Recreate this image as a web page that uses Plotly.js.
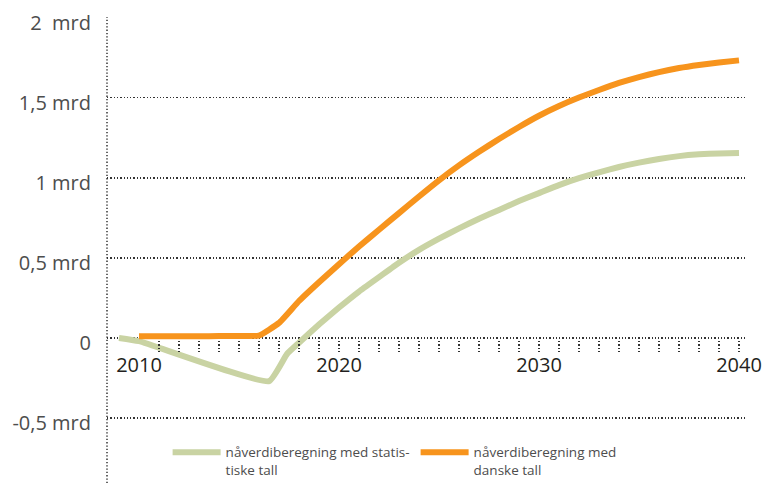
<!DOCTYPE html>
<html>
<head>
<meta charset="utf-8">
<script src="https://cdn.plot.ly/plotly-3.0.1.min.js"></script>
<style>html,body{margin:0;padding:0;background:#fff}#chart{width:770px;height:483px}</style>
</head>
<body>
<div id="chart"></div>
<script>
// Series: nåverdiberegning med statistiske tall (green)
const greenYears = [2009, 2010, 2016.5, 2017.4, 2018, 2019, 2020, 2021, 2022, 2023, 2024, 2025, 2026, 2027, 2028, 2029, 2030, 2031, 2032, 2033, 2034, 2035, 2036, 2037, 2038, 2039, 2040];
const greenValues = [0.0, -0.02, -0.27, -0.10, -0.03, 0.084, 0.19, 0.29, 0.38, 0.47, 0.55, 0.62, 0.685, 0.745, 0.80, 0.855, 0.905, 0.955, 0.998, 1.035, 1.068, 1.095, 1.118, 1.136, 1.147, 1.153, 1.156];

// Series: nåverdiberegning med danske tall (orange)
const orangeYears = [2010, 2011, 2012, 2013, 2014, 2015, 2016, 2017, 2018, 2019, 2020, 2021, 2022, 2023, 2024, 2025, 2026, 2027, 2028, 2029, 2030, 2031, 2032, 2033, 2034, 2035, 2036, 2037, 2038, 2039, 2040];
const orangeValues = [0.01, 0.01, 0.01, 0.01, 0.012, 0.013, 0.015, 0.094, 0.231, 0.348, 0.461, 0.571, 0.676, 0.78, 0.884, 0.985, 1.078, 1.163, 1.243, 1.318, 1.388, 1.449, 1.502, 1.549, 1.593, 1.630, 1.661, 1.686, 1.705, 1.721, 1.734];

const seriesNames = ['nåverdiberegning med statis-<br>tiske tall', 'nåverdiberegning med<br>danske tall'];

// Axis ticks
const yTickVals = [-0.5, 0, 0.5, 1, 1.5, 2];
const yTickText = ['-0,5 mrd', '0', '0,5 mrd', '1 mrd', '1,5 mrd', '2\u00a0 mrd'];
const xLabelVals = [2010, 2020, 2030, 2040];
const xLabelText = ['2010', '2020', '2030', '2040'];
const yearTicks = [2011, 2012, 2013, 2014, 2015, 2016, 2017, 2018, 2019, 2020, 2021, 2022, 2023, 2024, 2025, 2026, 2027, 2028, 2029, 2030, 2031, 2032, 2033, 2034, 2035, 2036, 2037, 2038, 2039, 2040];

const xRange = [2008.4, 2040.3];
const yRange = [-0.906, 2.005];
const ySpan = yRange[1] - yRange[0];
const frac = v => (v - yRange[0]) / ySpan;

const dotDash = '1.3px,2px';
const font = 'Open Sans, Noto Sans, sans-serif';

const traces = [
  {x: greenYears, y: greenValues, type: 'scatter', mode: 'lines', name: seriesNames[0],
   line: {color: '#c9d3a3', width: 6, shape: 'spline', smoothing: 0.4}, hoverinfo: 'skip'},
  {x: orangeYears, y: orangeValues, type: 'scatter', mode: 'lines', name: seriesNames[1],
   line: {color: '#f7941d', width: 6, shape: 'spline', smoothing: 0.4}, hoverinfo: 'skip'},
  {x: [], y: [], xaxis: 'x2', yaxis: 'y2', type: 'scatter', mode: 'lines', showlegend: false, hoverinfo: 'skip'}
];

const layout = {
  width: 770, height: 483,
  margin: {l: 107, r: 25, t: 17, b: 0, autoexpand: false},
  paper_bgcolor: '#fff', plot_bgcolor: 'rgba(0,0,0,0)',
  font: {family: font, color: '#4d4d4d'},
  xaxis: {
    range: xRange, anchor: 'free', position: frac(0),
    tickmode: 'array', tickvals: xLabelVals, ticktext: xLabelText,
    ticks: '', showgrid: false, zeroline: false, showline: false,
    ticklabelstandoff: 13,
    tickfont: {family: font, size: 20, color: '#231f20'}
  },
  yaxis: {
    range: yRange, domain: [0, 1],
    tickmode: 'array', tickvals: yTickVals, ticktext: yTickText,
    ticks: '', showline: false, zeroline: false,
    showgrid: true, gridcolor: '#333', gridwidth: 1.3, griddash: dotDash,
    ticklabelstandoff: 15, ticklabelshift: 5,
    tickfont: {family: font, size: 20, color: '#4d4d4d'}
  },
  xaxis2: {
    range: xRange, anchor: 'y2', overlaying: 'x',
    tickmode: 'array', tickvals: yearTicks, showticklabels: false, ticks: '',
    showgrid: true, gridcolor: '#333', gridwidth: 1.3, griddash: dotDash,
    zeroline: false, showline: false
  },
  yaxis2: {
    range: [0, 1], domain: [frac(-0.094), frac(-0.019)], anchor: 'x2',
    visible: false, showgrid: false, zeroline: false
  },
  shapes: [
    {type: 'line', xref: 'paper', yref: 'paper', x0: 0, x1: 0, y0: 0, y1: 1,
     line: {color: '#333', width: 1.5, dash: dotDash}, layer: 'below'}
  ],
  legend: {
    orientation: 'h', x: 0.095, xanchor: 'left', y: 0.099, yanchor: 'top',
    bgcolor: 'rgba(0,0,0,0)', valign: 'top',
    entrywidth: 185, entrywidthmode: 'pixels',
    font: {family: font, size: 13.5, color: '#4d4d4d'},
    itemwidth: 48, tracegroupgap: 0
  },
  showlegend: true
};

Plotly.newPlot('chart', traces, layout, {staticPlot: true, displayModeBar: false});
</script>
</body>
</html>
